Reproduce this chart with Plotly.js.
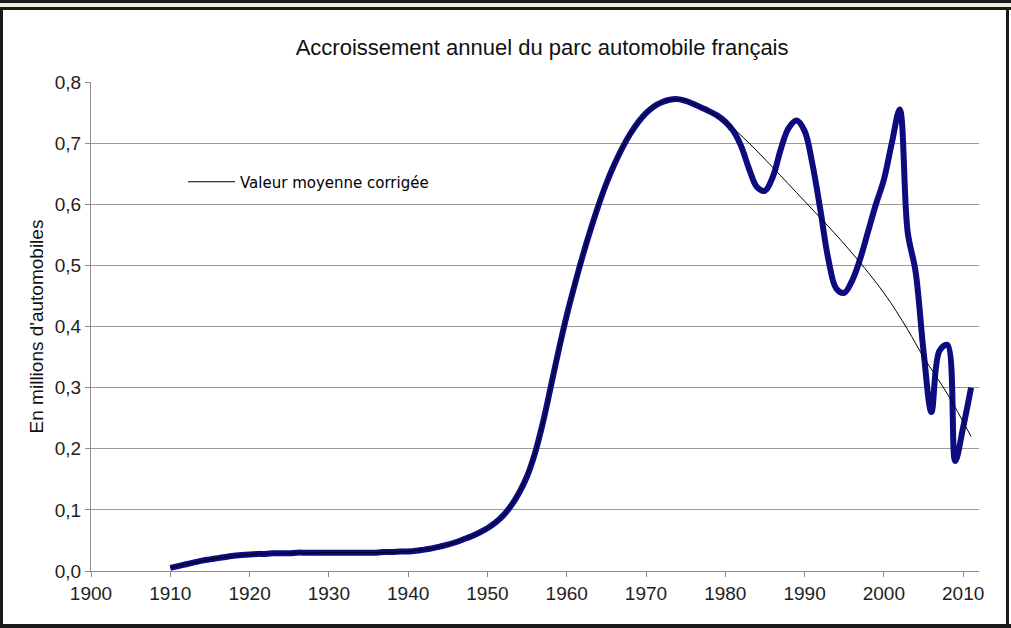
<!DOCTYPE html>
<html>
<head>
<meta charset="utf-8">
<script src="https://cdn.plot.ly/plotly-3.0.1.min.js"></script>
<style>
  html, body { margin: 0; padding: 0; background: #ffffff; width: 1011px; height: 628px; overflow: hidden; }
  #frameTop1 { position: absolute; left: 0; top: 0; width: 1011px; height: 3px; background: #1a1a1a; }
  #frameTop2 { position: absolute; left: 0; top: 3px; width: 1011px; height: 4px; background: #eeeedd; }
  #frameTop3 { position: absolute; left: 0; top: 7px; width: 1011px; height: 3px; background: #1a1a1a; }
  #frameLeft { position: absolute; left: 0; top: 7px; width: 3px; height: 621px; background: #1a1a1a; }
  #frameRight { position: absolute; left: 1006px; top: 7px; width: 3px; height: 621px; background: #1a1a1a; }
  #frameBottom { position: absolute; left: 0; top: 624px; width: 1011px; height: 4px; background: #1a1a1a; }
  #chart { position: absolute; left: 0; top: 0; width: 1011px; height: 628px; }
</style>
</head>
<body>
<div id="chart"></div>
<div id="frameTop1"></div><div id="frameTop2"></div><div id="frameTop3"></div>
<div id="frameLeft"></div><div id="frameRight"></div><div id="frameBottom"></div>
<script>
// Années et accroissement annuel (millions d'automobiles)
var years = [1910,1911,1912,1913,1914,1915,1916,1917,1918,1919,
             1920,1921,1922,1923,1924,1925,1926,1927,1928,1929,
             1930,1931,1932,1933,1934,1935,1936,1937,1938,1939,
             1940,1941,1942,1943,1944,1945,1946,1947,1948,1949,
             1950,1951,1952,1953,1954,1955,1956,1957,1958,1959,
             1960,1961,1962,1963,1964,1965,1966,1967,1968,1969,
             1970,1971,1972,1973,1974,1975,1976,1977,1978,1979,
             1980,1981,1982,1983,1984,1985,1986,1987,1988,1989,
             1990,1991,1992,1993,1994,1995,1996,1997,1998,1999,
             2000,2001,2002,2003,2004,2005,2006,2007,2008,2009,
             2010,2011];
var growth = [0.005,0.008,0.011,0.014,0.017,0.019,0.021,0.023,0.025,0.026,
              0.027,0.028,0.028,0.029,0.029,0.029,0.030,0.030,0.030,0.030,
              0.030,0.030,0.030,0.030,0.030,0.030,0.030,0.031,0.031,0.032,
              0.032,0.033,0.035,0.037,0.040,0.043,0.047,0.052,0.057,0.063,
              0.070,0.079,0.091,0.107,0.128,0.155,0.193,0.243,0.302,0.362,
              0.418,0.468,0.515,0.558,0.598,0.634,0.665,0.692,0.715,0.734,
              0.749,0.760,0.767,0.771,0.772,0.769,0.764,0.758,0.752,0.745,
              0.735,0.720,0.695,0.658,0.628,0.622,0.645,0.690,0.725,0.737,
              0.720,0.665,0.590,0.510,0.462,0.455,0.475,0.510,0.555,0.600,
              0.640,0.700,0.755,0.555,0.490,0.360,0.260,0.360,0.370,0.180,
              0.235,0.300];

// Valeur moyenne corrigée
var meanYears = [1910,1915,1920,1925,1930,1935,1940,1945,1950,1953,1956,1959,1962,1965,1968,1971,1974,1977,1980,1983,1986,1990,1995,2000,2003,2005,2008,2011];
var meanValues = [0.005,0.019,0.027,0.029,0.030,0.030,0.032,0.043,0.070,0.107,0.193,0.362,0.515,0.634,0.715,0.760,0.772,0.758,0.735,0.700,0.660,0.605,0.535,0.455,0.395,0.350,0.290,0.220];

var xTicks = [1900,1910,1920,1930,1940,1950,1960,1970,1980,1990,2000,2010];
var yTicks = [0,0.1,0.2,0.3,0.4,0.5,0.6,0.7,0.8];
var yTickText = ['0,0','0,1','0,2','0,3','0,4','0,5','0,6','0,7','0,8'];

var traces = [
  {
    x: years, y: growth, type: 'scatter', mode: 'lines',
    line: {color: '#0c0c80', width: 6, shape: 'spline', smoothing: 1},
    showlegend: false, name: 'Accroissement annuel'
  },
  {
    x: meanYears, y: meanValues, type: 'scatter', mode: 'lines',
    line: {color: '#000000', width: 1, shape: 'spline', smoothing: 1},
    name: 'Valeur moyenne corrigée'
  }
];

var layout = {
  width: 1011, height: 628,
  paper_bgcolor: '#ffffff', plot_bgcolor: '#ffffff',
  margin: {l: 91, r: 32, t: 82, b: 57},
  font: {family: 'Liberation Sans, Arial, sans-serif', color: '#222222', size: 19},
  title: {
    text: 'Accroissement annuel du parc automobile français',
    font: {family: 'Liberation Sans, Arial, sans-serif', size: 22, color: '#111111'},
    x: 0.508, xref: 'paper', y: 1 - 47/628, yref: 'container', xanchor: 'center', yanchor: 'middle'
  },
  xaxis: {
    range: [1900, 2012], tickvals: xTicks, ticktext: xTicks.map(String),
    showgrid: false, zeroline: false,
    showline: true, linecolor: '#8c8c8c', linewidth: 1,
    ticks: 'outside', ticklen: 5, tickcolor: '#8c8c8c', tickwidth: 1,
    tickfont: {size: 19, color: '#222222'}, fixedrange: true
  },
  yaxis: {
    range: [0, 0.8], tickvals: yTicks, ticktext: yTickText,
    showgrid: true, gridcolor: '#999999', gridwidth: 1, zeroline: false,
    showline: true, linecolor: '#8c8c8c', linewidth: 1,
    ticks: 'outside', ticklen: 5, tickcolor: '#8c8c8c', tickwidth: 1,
    tickfont: {size: 19, color: '#222222'},
    title: {text: "En millions d'automobiles", font: {size: 19, color: '#111111'}, standoff: 6},
    fixedrange: true
  },
  showlegend: true,
  legend: {
    x: (183 - 91) / 888, y: (571 - 182) / 489, xanchor: 'left', yanchor: 'middle',
    bgcolor: 'rgba(255,255,255,0)', borderwidth: 0,
    itemwidth: 47,
    font: {family: 'DejaVu Sans, sans-serif', size: 15, color: '#000000'}
  }
};

Plotly.newPlot('chart', traces, layout, {staticPlot: true, displayModeBar: false});
</script>
</body>
</html>
